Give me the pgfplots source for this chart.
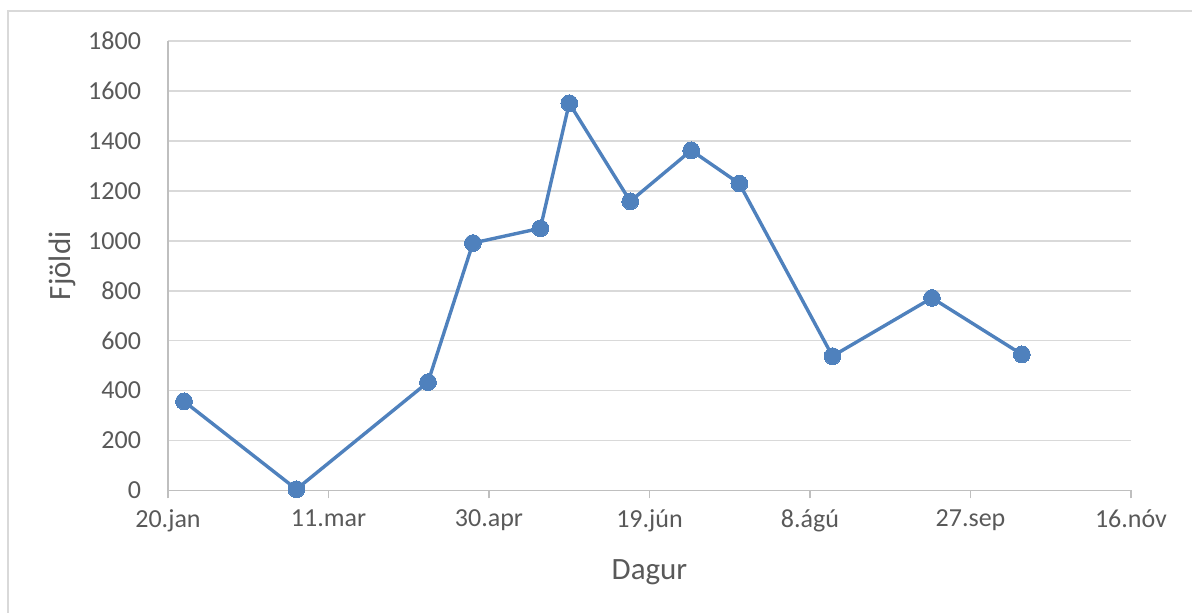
\documentclass[border=0pt]{standalone}
\usepackage{fontspec}
\setmainfont{Carlito}
\usepackage{pgfplots}
\pgfplotsset{compat=1.18}
\definecolor{serie}{HTML}{4F81BD}
\definecolor{gridgray}{HTML}{D9D9D9}
\definecolor{axisgray}{HTML}{BFBFBF}
\definecolor{textgray}{HTML}{595959}
\begin{document}
\begin{tikzpicture}
	% page = 1192 x 613 px at 0.5pt per px, plot area corner at px (168, 490.5)
	\useasboundingbox (-84pt,245.25pt) rectangle (512pt,-61.25pt);
	\draw[gridgray, line width=0.8pt] (-80pt,-61.25pt) -- (-80pt,239.75pt) -- (512pt,239.75pt);
	\begin{axis}[
			at={(0,0)}, anchor=south west,
			scale only axis,
			width=481.5pt, height=224.75pt,
			xmin=0, xmax=300,
			ymin=0, ymax=1800,
			xtick={0,50,100,150,200,250,300},
			xticklabels={20.jan, 11.mar, 30.apr, 19.jún, 8.ágú, 27.sep, 16.nóv},
			ytick={0,200,...,1800},
			axis x line*=bottom,
			axis y line*=left,
			axis line style={axisgray, line width=0.8pt},
			x axis line style={-},
			y axis line style={-},
			xtick style={axisgray, line width=0.8pt},
			major tick length=4pt,
			xtick pos=bottom,
			tick align=outside,
			ytick style={draw=none},
			ymajorgrids,
			grid style={gridgray, line width=0.8pt},
			tick label style={font=\fontsize{13}{15}\selectfont, text=textgray},
			/pgf/number format/assume math mode=true,
			/pgf/number format/1000 sep={},
			xticklabel style={yshift=-2pt},
			yticklabel style={xshift=-6pt},
			xlabel={Dagur},
			ylabel={Fjöldi},
			label style={font=\fontsize{15.5}{18}\selectfont, text=textgray},
			xlabel style={at={(rel axis cs:0.5,-0.1813)}, anchor=center},
			ylabel style={at={(rel axis cs:-0.1101,0.5)}, anchor=center},
			clip=false,
		]
		\addplot[color=serie, line width=1.7pt, mark=*, mark size=4.2pt,
			mark options={fill=serie, draw=serie, line width=0pt}]
		coordinates {
				(5, 357)
				(40, 5)
				(81, 434)
				(95, 991)
				(116, 1050)
				(125, 1551)
				(144, 1158)
				(163, 1362)
				(178, 1229)
				(207, 538)
				(238, 771)
				(266, 545)
			};
	\end{axis}
\end{tikzpicture}
\end{document}
